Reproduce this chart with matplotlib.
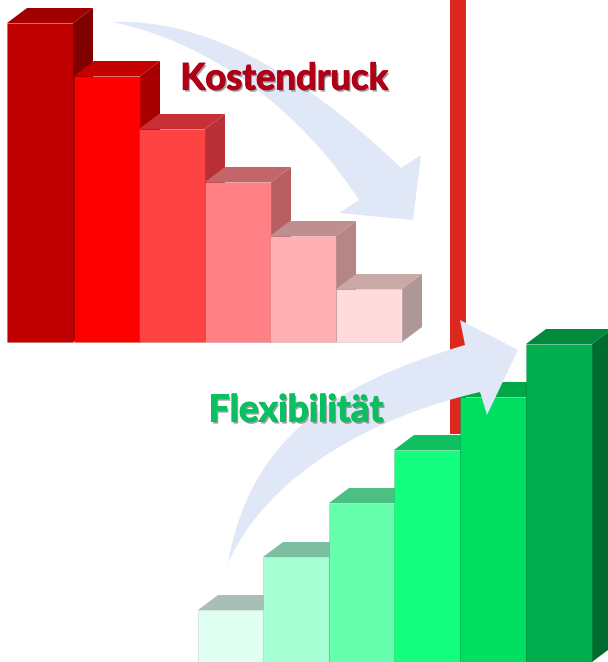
import matplotlib
matplotlib.use("Agg")
import matplotlib.pyplot as plt
import matplotlib.patheffects as pe
from matplotlib.patches import PathPatch, Polygon
from matplotlib.path import Path

# bar heights
kosten_heights = [319, 266, 213, 160, 106, 53]
flex_heights = [52, 105, 159, 212, 265, 318]

kosten_left = [7, 74, 139, 205, 270, 336]
flex_left = [198, 263, 329, 394, 460, 526]

kosten_front = ["#C00000", "#FF0000", "#FF4343", "#FF8085", "#FFB0B3", "#FFDCDB"]
kosten_top = ["#A00000", "#C40000", "#C83035", "#C4656A", "#BF8F90", "#C9A8A6"]
kosten_side = ["#800000", "#A80000", "#B83035", "#B85F62", "#B58587", "#AE9796"]

flex_front = ["#E0FFF3", "#A6FFD3", "#66FFAD", "#14FF80", "#00DF62", "#00AE50"]
flex_top = ["#A9BFB5", "#7CBFA0", "#4CBF82", "#10BF60", "#00A848", "#008A3E"]
flex_side = ["#9DB5AA", "#74B498", "#48B47A", "#0EB45A", "#009A44", "#006B2E"]

BASE_RED = 342
BASE_GREEN = 662
WIDTH = 66
DX, DY = 20, 15
ARROW = "#E0E7F6"


def bars_3d(ax, left, heights, base, front, top, side, z):
    for i in range(len(left)):
        x = left[i]
        y = base - heights[i]
        ax.add_patch(Polygon([(x, y), (x + DX, y - DY), (x + WIDTH + DX, y - DY), (x + WIDTH, y)],
                             fc=top[i], ec="none", zorder=z + i))
        ax.add_patch(Polygon([(x + WIDTH, y), (x + WIDTH + DX, y - DY), (x + WIDTH + DX, base - DY), (x + WIDTH, base)],
                             fc=side[i], ec="none", zorder=z + i))
        ax.bar(x, -heights[i], width=WIDTH, bottom=base, align="edge", color=front[i],
               edgecolor="#00000018", linewidth=0.8, zorder=z + i + 0.5)


fig = plt.figure(figsize=(6.08, 6.62), dpi=100)
ax = fig.add_axes([0, 0, 1, 1])
ax.set_xlim(0, 608)
ax.set_ylim(662, 0)
ax.axis("off")

# red divider
ax.plot([458, 458], [0, 434], color="#DC281E", lw=11.5, solid_capstyle="butt", zorder=1)

bars_3d(ax, kosten_left, kosten_heights, BASE_RED, kosten_front, kosten_top, kosten_side, 2)

# falling arrow
verts = [(113, 22), (200, 18), (300, 70), (401, 168),
         (421, 155), (413, 220), (339, 213), (359, 200),
         (320, 140), (240, 50), (113, 22), (113, 22)]
codes = [Path.MOVETO, Path.CURVE4, Path.CURVE4, Path.CURVE4,
         Path.LINETO, Path.LINETO, Path.LINETO, Path.LINETO,
         Path.CURVE4, Path.CURVE4, Path.CURVE4, Path.CLOSEPOLY]
ax.add_patch(PathPatch(Path(verts, codes), fc=ARROW, ec="none", zorder=10))

bars_3d(ax, flex_left, flex_heights, BASE_GREEN, flex_front, flex_top, flex_side, 12)

# rising arrow
verts = [(228, 563), (250, 440), (330, 385), (465, 345),
         (460, 320), (518, 350), (487, 415), (480, 392),
         (380, 415), (270, 470), (228, 563), (228, 563)]
ax.add_patch(PathPatch(Path(verts, codes), fc=ARROW, ec="none", zorder=20))

red_fx = [pe.withSimplePatchShadow(offset=(1.2, -1.5), shadow_rgbFace="#777777", alpha=0.7),
          pe.withStroke(linewidth=0.8, foreground="#B00018")]
green_fx = [pe.withSimplePatchShadow(offset=(1.2, -1.5), shadow_rgbFace="#777777", alpha=0.7),
            pe.withStroke(linewidth=0.8, foreground="#0ABF60")]
ax.text(284, 79, "Kostendruck", color="#B00018", fontsize=26.3, fontweight="bold", family="Lato",
        ha="center", va="center", path_effects=red_fx, zorder=30)
ax.text(296, 411, "Flexibilität", color="#0ABF60", fontsize=26.8, fontweight="bold", family="Lato",
        ha="center", va="center", path_effects=green_fx, zorder=30)

fig.savefig("out.png", dpi=100)
